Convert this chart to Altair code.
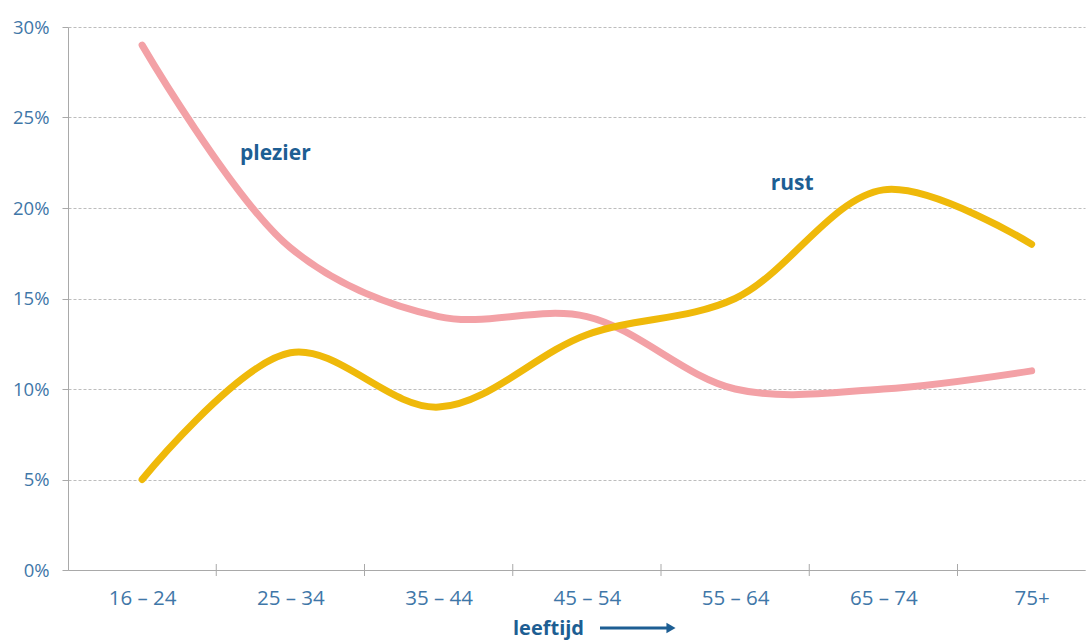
import altair as alt
import pandas as pd

categories = ["16 – 24", "25 – 34", "35 – 44", "45 – 54", "55 – 64", "65 – 74", "75+"]
plezier = [29, 17.8, 14, 14, 10, 10, 11]
rust = [5, 12, 9, 13, 15, 21, 18]
y_ticks = [0, 5, 10, 15, 20, 25, 30]

label_names = ["plezier", "rust"]
label_x = [0.66, 4.24]
label_y = [23.0, 21.3]

rows = []
for i, c in enumerate(categories):
    rows.append({"idx": i, "cat": c, "serie": "plezier", "waarde": plezier[i]})
    rows.append({"idx": i, "cat": c, "serie": "rust", "waarde": rust[i]})
df = pd.DataFrame(rows)

labels_df = pd.DataFrame({"naam": label_names, "x": label_x, "y": label_y})
bounds_df = pd.DataFrame({"b": [i + 0.5 for i in range(len(categories) - 1)]})

W, H = 1017, 543
FONT = "Open Sans"
BLUE = "#1d5e93"
LABEL = "#3f77a8"

label_expr = "[" + ",".join("'" + c + "'" for c in categories) + "][datum.value]"

xscale = alt.Scale(domain=[-0.5, 6.36], nice=False, zero=False)
yscale = alt.Scale(domain=[0, 30], nice=False)

lines = alt.Chart(df).mark_line(
    interpolate="catmull-rom", strokeWidth=7, strokeCap="round", strokeJoin="round"
).encode(
    x=alt.X("idx:Q", scale=xscale,
            axis=alt.Axis(values=list(range(len(categories))), labelExpr=label_expr,
                          ticks=False, grid=False, domainColor="#a9a9a9",
                          labelFont=FONT, labelFontSize=20.5, labelColor=LABEL,
                          labelPadding=18, title="leeftijd", titleFont=FONT,
                          titleFontSize=20, titleFontWeight="bold", titleColor=BLUE,
                          titleX=480, titleY=64, titleAlign="center",
                          titleBaseline="alphabetic")),
    y=alt.Y("waarde:Q", scale=yscale,
            axis=alt.Axis(values=y_ticks, labelExpr="datum.value + '%'",
                          grid=True, gridDash=[3, 2], gridColor="#bdbdbd",
                          domainColor="#a9a9a9", tickColor="#a9a9a9", tickSize=6,
                          labelFont=FONT, labelFontSize=18.5, labelColor=LABEL,
                          labelPadding=13, title=None)),
    color=alt.Color("serie:N", scale=alt.Scale(domain=["plezier", "rust"],
                                                range=["#f3a1a6", "#efb90a"]),
                    legend=None),
    detail="serie:N",
)

text = alt.Chart(labels_df).mark_text(
    align="left", baseline="middle", font=FONT, fontSize=21, fontWeight="bold", color=BLUE
).encode(x=alt.X("x:Q", scale=xscale), y=alt.Y("y:Q", scale=yscale), text="naam:N")

ticks = alt.Chart(bounds_df).mark_rule(color="#a9a9a9", strokeWidth=1).encode(
    x=alt.X("b:Q", scale=xscale), y=alt.value(H - 6), y2=alt.value(H + 6)
)

arrow_line = alt.Chart(bounds_df.head(1)).mark_rule(color=BLUE, strokeWidth=3).encode(
    x=alt.value(532), x2=alt.value(600), y=alt.value(H + 58)
)
arrow_head = alt.Chart(bounds_df.head(1)).mark_point(
    shape="triangle-right", filled=True, color=BLUE, size=110, opacity=1
).encode(x=alt.value(603), y=alt.value(H + 58))

chart = alt.layer(ticks, lines, text, arrow_line, arrow_head).properties(
    width=W, height=H,
    autosize=alt.AutoSizeParams(type="none"),
    padding={"left": 68, "top": 27, "right": 2, "bottom": 71},
    background="white",
).configure_view(stroke=None)

chart.save("out.html", embed_options={"renderer": "svg", "actions": False})
